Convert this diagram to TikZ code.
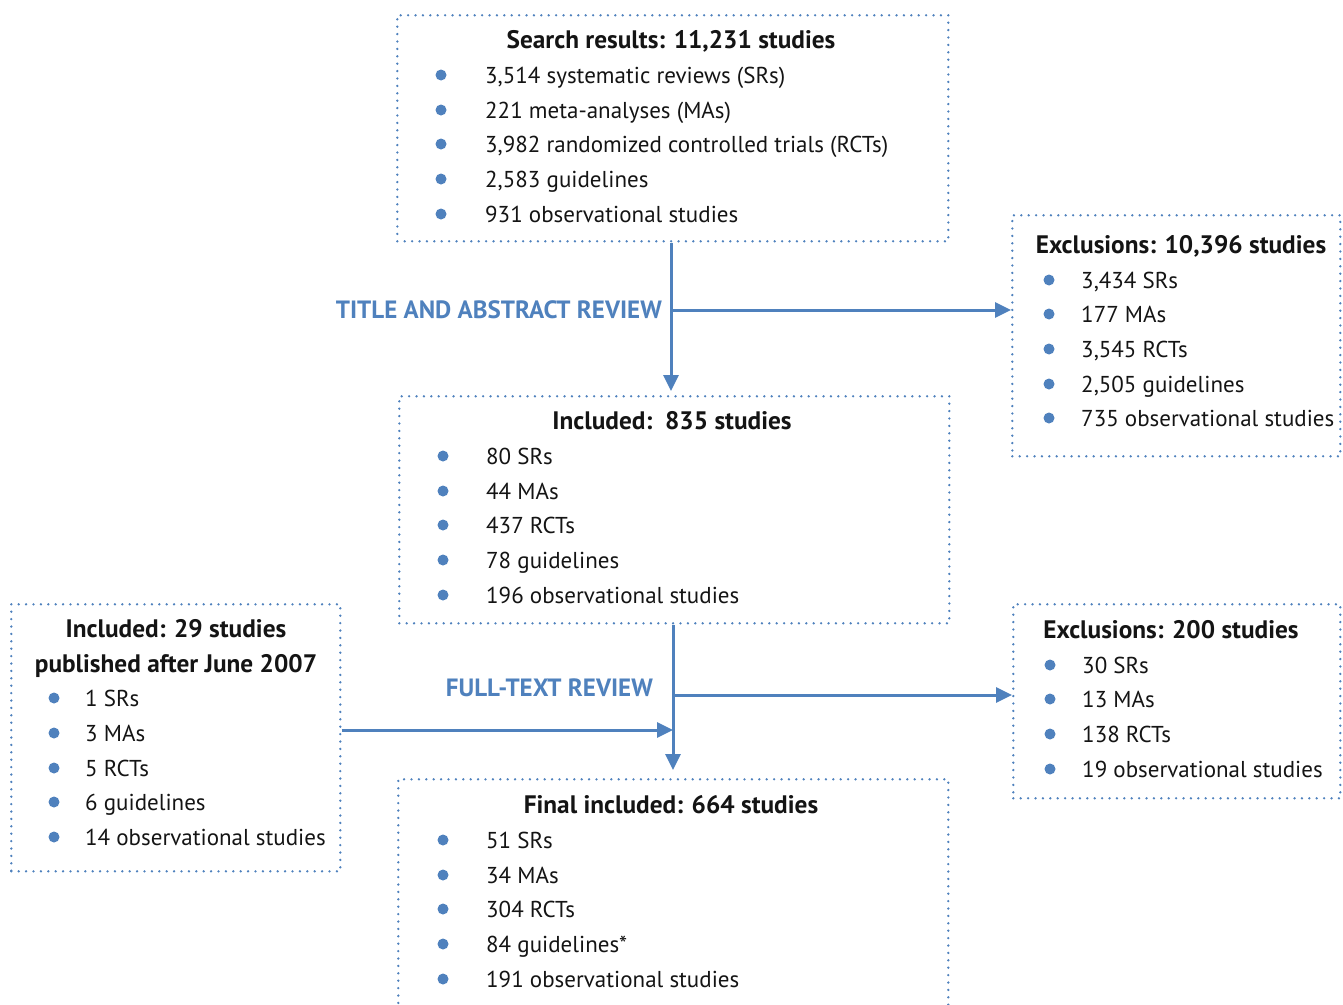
\documentclass[tikz,border=0pt]{standalone}
\usepackage{fontspec}
\setmainfont{PT Sans}
\usetikzlibrary{arrows.meta,calc}
\definecolor{fblue}{RGB}{79,129,189}
\definecolor{ftext}{RGB}{20,20,20}
\tikzset{
  box/.style={draw=fblue, line width=2.6pt, line cap=round, dash pattern=on 0pt off 7.4pt, anchor=north west, inner sep=0pt},
  ttl/.style={font=\fontsize{25.3}{29}\selectfont\bfseries, text=ftext, anchor=base, inner sep=0pt},
  itm/.style={font=\fontsize{23}{27}\selectfont, text=ftext, anchor=base west, inner sep=0pt},
  bul/.style={circle, fill=fblue, inner sep=0pt, minimum size=11pt},
  arr/.style={draw=fblue, line width=3pt, -{Triangle[length=16pt,width=15pt]}},
  lbl/.style={font=\fontsize{25}{29}\selectfont\bfseries, text=fblue, anchor=east, inner sep=0pt},
}
\begin{document}
\begin{tikzpicture}[x=1pt,y=-1pt]
\useasboundingbox (0,0) rectangle (1343,1004);
\clip (0,0) rectangle (1343,1004);
% boxes
\node[box, minimum width=551pt, minimum height=226pt] (A) at (396,14) {};
\node[box, minimum width=328pt, minimum height=241pt] (B) at (1011,214) {};
\node[box, minimum width=550pt, minimum height=227pt] (C) at (398,395) {};
\node[box, minimum width=329pt, minimum height=267pt] (D) at (10,603) {};
\node[box, minimum width=327pt, minimum height=194pt] (E) at (1012,603) {};
\node[box, minimum width=550pt, minimum height=260pt] (F) at (397,778) {};
% box A
\node[ttl] (At) at (671,48) {Search results: 11,231 studies};
\foreach \y/\t [count=\i] in {83/{3,514 systematic reviews (SRs)},118/{221 meta-analyses (MAs)},152/{3,982 randomized controlled trials (RCTs)},187/{2,583 guidelines},222/{931 observational studies}}{
  \node[bul] (Ab\i) at (441,\y-8) {};
  \node[itm] (Ai\i) at (485,\y) {\t};
}
% box B
\node[ttl] (Bt) at (1181,253) {Exclusions: 10,396 studies};
\foreach \y/\t [count=\i] in {288/{3,434 SRs},322/{177 MAs},357/{3,545 RCTs},392/{2,505 guidelines},426/{735 observational studies}}{
  \node[bul] (Bb\i) at (1049,\y-8) {};
  \node[itm] (Bi\i) at (1081,\y) {\t};
}
% box C
\node[ttl] (Ct) at (672,429) {Included:\ \ 835 studies};
\foreach \y/\t [count=\i] in {464/{80 SRs},499/{44 MAs},533/{437 RCTs},568/{78 guidelines},603/{196 observational studies}}{
  \node[bul] (Cb\i) at (443,\y-8) {};
  \node[itm] (Ci\i) at (486,\y) {\t};
}
% box D
\node[ttl] (Dt1) at (176,637) {Included: 29 studies};
\node[ttl] (Dt2) at (176,672) {published after June 2007};
\foreach \y/\t [count=\i] in {706/{1 SRs},741/{3 MAs},776/{5 RCTs},810/{6 guidelines},845/{14 observational studies}}{
  \node[bul] (Db\i) at (54,\y-8) {};
  \node[itm] (Di\i) at (85,\y) {\t};
}
% box E
\node[ttl] (Et) at (1171,638) {Exclusions: 200 studies};
\foreach \y/\t [count=\i] in {673/{30 SRs},707/{13 MAs},742/{138 RCTs},777/{19 observational studies}}{
  \node[bul] (Eb\i) at (1050,\y-8) {};
  \node[itm] (Ei\i) at (1082,\y) {\t};
}
% box F
\node[ttl] (Ft) at (671,813) {Final included: 664 studies};
\foreach \y/\t [count=\i] in {848/{51 SRs},883/{34 MAs},917/{304 RCTs},952/{84 guidelines*},987/{191 observational studies}}{
  \node[bul] (Fb\i) at (443,\y-8) {};
  \node[itm] (Fi\i) at (486,\y) {\t};
}
% connectors
\coordinate (j1) at (671,310);
\coordinate (j2) at (673,695);
\coordinate (j3) at (673,730);
\draw[arr, shorten >=4pt] (A.south -| j1) -- (C.north -| j1);
\draw[arr] (j1) -- (j1 -| B.west);
\draw[arr, shorten >=8pt] (C.south -| j2) -- (F.north -| j2);
\draw[arr] (j2) -- (j2 -| E.west);
\draw[arr] (D.east |- j3) -- (j3);
% labels
\node[lbl] (L1) at (662,310) {TITLE AND ABSTRACT REVIEW};
\node[lbl] (L2) at (653,688) {FULL-TEXT REVIEW};
\end{tikzpicture}
\end{document}
